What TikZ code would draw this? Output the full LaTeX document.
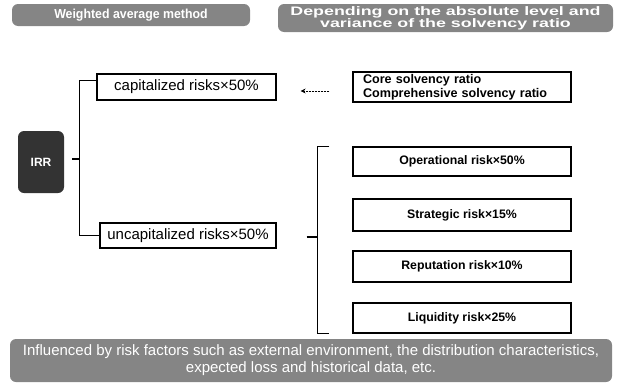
\documentclass[tikz,border=0pt]{standalone}
\usepackage{fontspec}
\setmainfont{Liberation Sans}
\usetikzlibrary{calc,arrows.meta}
\begin{document}
\begin{tikzpicture}[x=1pt,y=-1pt,
  banner/.style={fill=black!48, rounded corners=6pt, text=white, inner sep=0pt, align=center},
  riskbox/.style={draw, line width=1.1pt, inner sep=0pt, minimum width=218pt, font=\fontsize{12.3}{14}\selectfont\bfseries},
  sharebox/.style={draw, line width=1.1pt, inner sep=0pt, minimum height=26pt, font=\fontsize{15}{17}\selectfont},
  brace/.style={line width=1.1pt},
]
\useasboundingbox (0,0) rectangle (620,388);

% headline banners
\node[banner, minimum width=238pt, minimum height=22pt, font=\fontsize{13}{14}\selectfont\bfseries] (hleft) at (131,15)
  {\scalebox{0.95}[1]{Weighted average method}};
\node[banner, minimum width=335pt, minimum height=28pt, font=\fontsize{12.3}{12.3}\selectfont\bfseries] (hright) at (445.5,18)
  {\scalebox{1.45}[1]{Depending on the absolute level and}\\\scalebox{1.45}[1]{variance of the solvency ratio}};

% overall rating
\node[fill=black!80, rounded corners=6pt, minimum width=46pt, minimum height=62pt, inner sep=0pt,
  text=white, font=\fontsize{12}{14}\selectfont\bfseries] (irr) at (41,162) {IRR};

% capitalized / uncapitalized shares
\node[sharebox, minimum width=179pt] (cap) at (186.5,87) {capitalized risks×50\%};
\node[sharebox, minimum width=176pt, minimum height=25pt] (uncap) at (188,235.5) {uncapitalized risks×50\%};

% solvency ratios
\node[riskbox, minimum height=30pt, text width=198pt, align=left, inner xsep=10pt, font=\fontsize{12.6}{14.5}\selectfont\bfseries] (core) at (462,87)
  {Core solvency ratio\\Comprehensive solvency ratio};

% uncapitalized risk components
\node[riskbox, minimum height=29pt] (ops) at (462,161.5) {Operational risk×50\%};
\node[riskbox, minimum height=32pt] (strat) at (462,215) {Strategic risk×15\%};
\node[riskbox, minimum height=31pt] (rep) at (462,266.5) {Reputation risk×10\%};
\node[riskbox, minimum height=30pt] (liq) at (462,318) {Liquidity risk×25\%};

% left brace: rating split into two shares
\coordinate (lb1) at ($(cap.north west)!0.25!(cap.south west)$);
\coordinate (lb2) at (uncap.west);
\draw[brace] (lb1) -- ++(-17,0) coordinate (lbt) |- (lb2);
\draw[brace] (irr.east) ++(8,-3) coordinate (lbm) -- (lbm -| lbt);

% right brace: uncapitalized share split into components
\draw[brace] ($(ops.north west)+(-23,0)$) coordinate (rbt) -- ++(-12,0) coordinate (rbx) |- ($(liq.south west)+(-23,0)$);
\draw[brace] ($(uncap.east)+(30,1.5)$) coordinate (rbm) -- (rbm -| rbx);

% ratios feed the capitalized share
\coordinate (atail) at ($(core.west)+(-23,4)$);
\coordinate (ahead) at ($(cap.east)+(24,4)$);
\draw[line width=0.9pt, -{Stealth[length=5pt,width=5pt]}, dash pattern=on 2pt off 1pt] (atail) -- (ahead);

% footer banner
\node[banner, minimum width=602pt, minimum height=43pt, font=\fontsize{15}{17}\selectfont] (foot) at (311,360.5)
  {Influenced by risk factors such as external environment, the distribution characteristics,\\expected loss and historical data, etc.};
\end{tikzpicture}
\end{document}
